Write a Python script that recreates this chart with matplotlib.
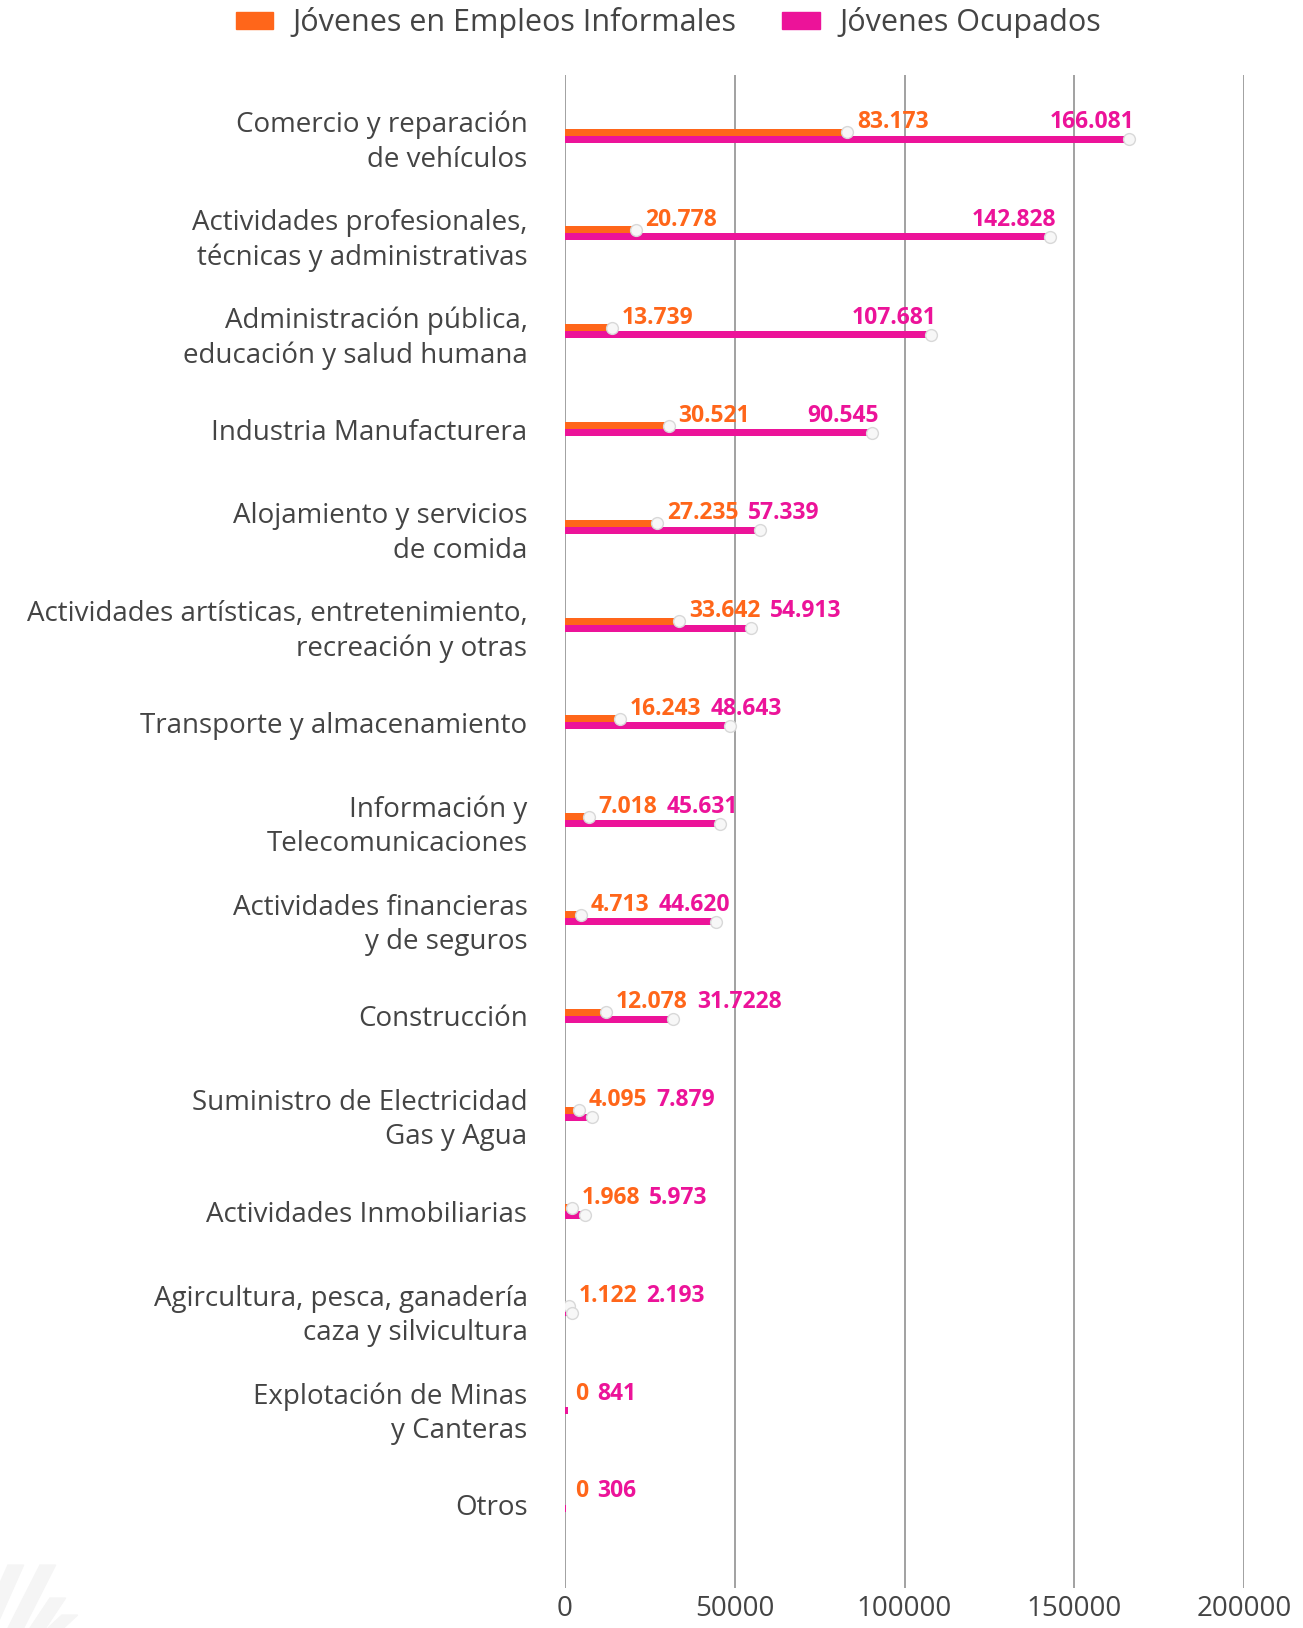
import numpy as np
import matplotlib.pyplot as plt
from matplotlib.patches import Patch, Polygon

# Jóvenes ocupados e informales por rama de actividad
sectores = [
    "Comercio y reparación\nde vehículos",
    "Actividades profesionales,\ntécnicas y administrativas",
    "Administración pública,\neducación y salud humana",
    "Industria Manufacturera",
    "Alojamiento y servicios\nde comida",
    "Actividades artísticas, entretenimiento,\nrecreación y otras",
    "Transporte y almacenamiento",
    "Información y\nTelecomunicaciones",
    "Actividades financieras\ny de seguros",
    "Construcción",
    "Suministro de Electricidad\nGas y Agua",
    "Actividades Inmobiliarias",
    "Agircultura, pesca, ganadería\ncaza y silvicultura",
    "Explotación de Minas\ny Canteras",
    "Otros",
]
informales = [83173, 20778, 13739, 30521, 27235, 33642, 16243, 7018, 4713,
              12078, 4095, 1968, 1122, 0, 0]
ocupados = [166081, 142828, 107681, 90545, 57339, 54913, 48643, 45631, 44620,
            31722.8, 7879, 5973, 2193, 841, 306]
etiq_informales = ["83.173", "20.778", "13.739", "30.521", "27.235", "33.642",
                   "16.243", "7.018", "4.713", "12.078", "4.095", "1.968",
                   "1.122", "0", "0"]
etiq_ocupados = ["166.081", "142.828", "107.681", "90.545", "57.339", "54.913",
                 "48.643", "45.631", "44.620", "31.7228", "7.879", "5.973",
                 "2.193", "841", "306"]
ticks_x = [0, 50000, 100000, 150000, 200000]

naranja = "#FF661A"
magenta = "#EC1399"
texto = "#444444"

plt.rcParams["font.family"] = ["Open Sans", "DejaVu Sans"]

fig = plt.figure(figsize=(13.03, 16.28), dpi=100)
ax = fig.add_axes([565 / 1303, 1 - 1588 / 1628, 679 / 1303, 1513 / 1628])

y = np.arange(len(sectores))
h = 0.072
ax.barh(y - h / 2, informales, height=h, color=naranja, zorder=3)
ax.barh(y + h / 2, ocupados, height=h, color=magenta, zorder=3)

# circulitos al final de cada barra
for i in range(len(sectores)):
    for val, off in ((informales[i], -h / 2), (ocupados[i], h / 2)):
        if val >= 1000:
            ax.plot(val, y[i] + off, "o", ms=8.5, mfc="#f7f7f7",
                    mec="#d8d8d8", mew=1, zorder=4)

ax.set_xlim(0, 200000)
ax.set_ylim(len(sectores) - 1 + 0.85, -0.62)
ax.set_xticks(ticks_x)
ax.set_xticklabels([str(t) for t in ticks_x], fontsize=20, color=texto)
ax.set_yticks(y)
ax.set_yticklabels(sectores, fontsize=20, color=texto, linespacing=1.3)
ax.tick_params(axis="both", length=0)
ax.tick_params(axis="y", pad=27)
ax.tick_params(axis="x", pad=5)
ax.grid(axis="x", color="#9a9a9a", lw=1.3, zorder=0)
for s in ax.spines.values():
    s.set_visible(False)

# etiquetas de valor
fig.canvas.draw()
renderer = fig.canvas.get_renderer()
for i in range(len(sectores)):
    yt = y[i] - 0.015
    t1 = ax.annotate(etiq_informales[i], (informales[i], yt),
                     xytext=(10, 0), textcoords="offset pixels",
                     ha="left", va="bottom", fontsize=16.5, fontweight="bold",
                     color=naranja, zorder=5)
    bb1 = t1.get_window_extent(renderer)
    t2 = ax.annotate(etiq_ocupados[i], (ocupados[i], yt),
                     xytext=(6, 0), textcoords="offset pixels",
                     ha="right", va="bottom", fontsize=16.5, fontweight="bold",
                     color=magenta, zorder=5)
    bb2 = t2.get_window_extent(renderer)
    if bb2.x0 < bb1.x1 + 9:
        # no cabe a la derecha: se pone a continuación de la naranja
        x_data = ax.transData.inverted().transform((bb1.x1 + 9, 0))[0]
        t2.xy = (x_data, yt)
        t2.xyann = (0, 0)
        t2.set_ha("left")

handles = [Patch(color=naranja, label="Jóvenes en Empleos Informales"),
           Patch(color=magenta, label="Jóvenes Ocupados")]
fig.legend(handles=handles, loc="center", bbox_to_anchor=(0.513, 1 - 23 / 1628),
           ncol=2, frameon=False, fontsize=22, labelcolor=texto,
           handlelength=1.22, handleheight=0.44, handletextpad=0.65,
           columnspacing=1.5)

# franjas decorativas en la esquina inferior izquierda
for x0, y0, x1 in ((-20, 1565, 8), (8, 1565, 40), (30, 1598, 50), (48, 1615, 62)):
    pts = [(x0 / 1303, 0), (x0 / 1303 + 0.012, 0),
           (x1 / 1303 + 0.012, 1 - y0 / 1628), (x1 / 1303, 1 - y0 / 1628)]
    fig.patches.append(Polygon(pts, closed=True, transform=fig.transFigure,
                               color="#f5f5f5", zorder=0))

fig.savefig("out.png", dpi=100, facecolor="white")
